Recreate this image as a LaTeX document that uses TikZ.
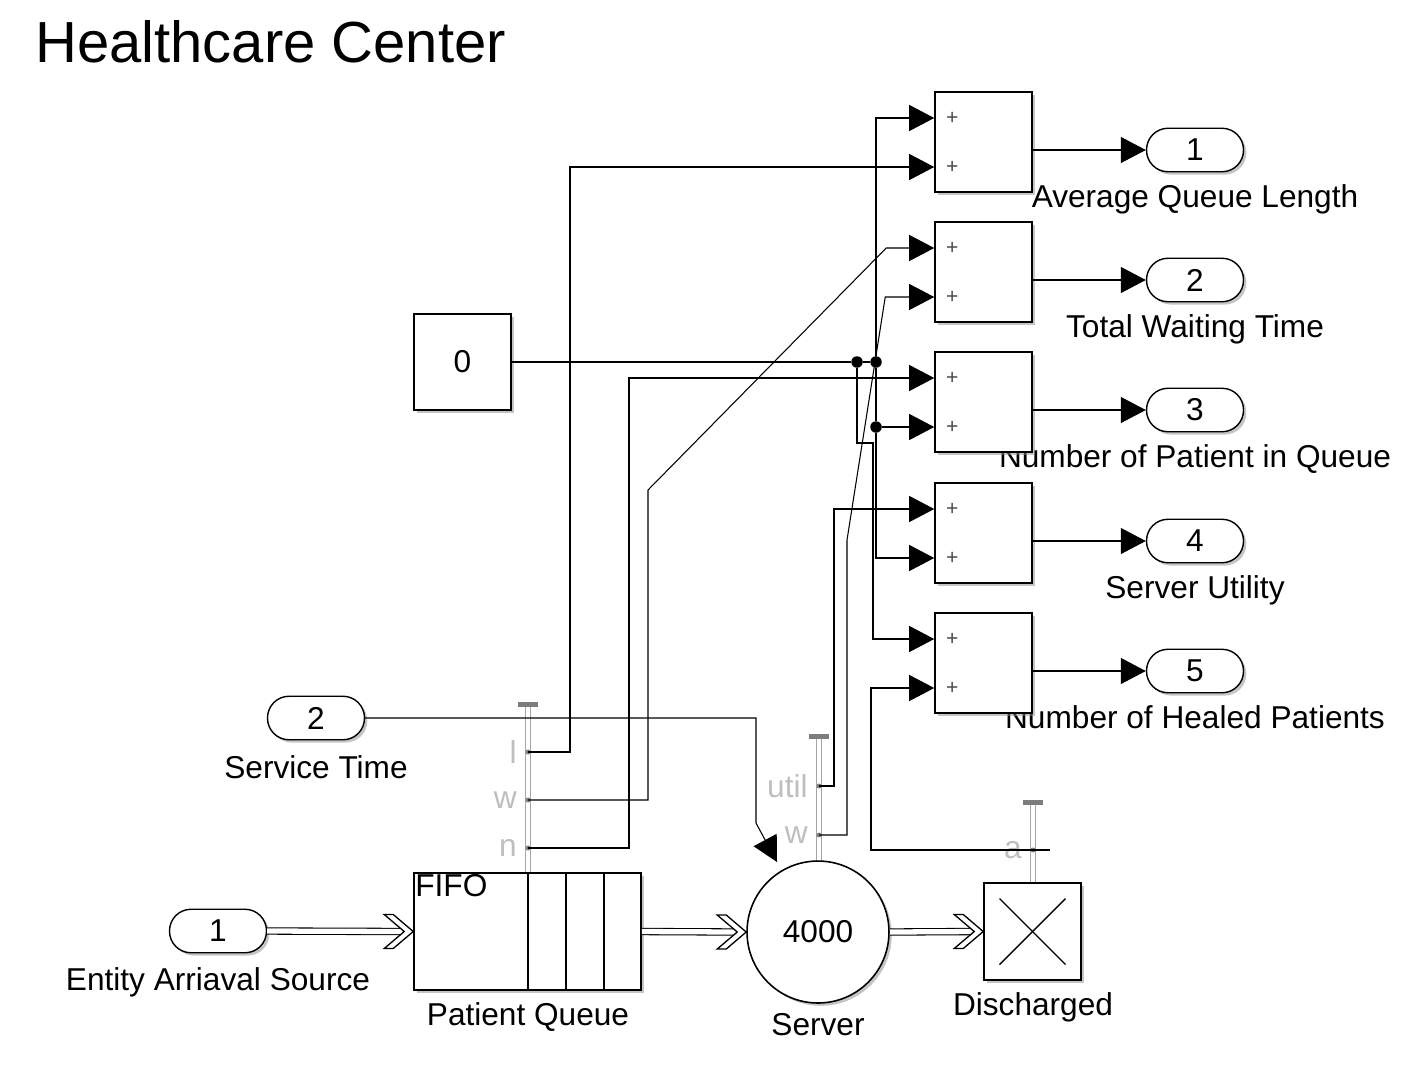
\documentclass[tikz,border=0pt]{standalone}
\usepackage{fontspec}
\setmainfont{Liberation Sans}
\usetikzlibrary{arrows.meta,positioning,calc,shadows}
\definecolor{clbl}{RGB}{190,190,190}
\definecolor{ccap}{RGB}{125,125,125}
\definecolor{cbar}{RGB}{165,165,165}

\begin{document}
\begin{tikzpicture}[x=0.02cm,y=-0.02cm,
  font=\fontsize{18}{22}\selectfont,>={Triangle[length=0.5cm,width=0.52cm]},
  blk/.style={draw,line width=0.9pt,fill=white,inner sep=0pt,
    drop shadow={shadow xshift=1.6pt,shadow yshift=-1.6pt,fill=black!45,opacity=0.5}},
  sumblk/.style={blk,minimum width=1.94cm,minimum height=2cm},
  portblk/.style={blk,line width=0.8pt,rounded corners=0.43cm,minimum width=1.94cm,minimum height=0.87cm},
  sgnlbl/.style={font=\fontsize{12}{14}\selectfont,text=black!70,inner sep=0pt},
  lbl/.style={anchor=base,inner sep=0pt},
  plbl/.style={text=clbl,anchor=east,inner sep=0pt},
  pdot/.style={circle,fill=black!50,inner sep=0pt,minimum size=0.1cm},
  dot/.style={circle,fill,inner sep=0pt,minimum size=0.23cm},
  portbar/.style={draw=cbar,double=white,double distance=2.6pt,line width=0.6pt},
  wire/.style={line width=0.6pt},
  sig/.style={->,line width=0.6pt},
  entity/.style={draw=black,double=white,double distance=3pt,line width=0.6pt},
  chev/.pic={\filldraw[fill=white,draw=black,line width=0.75pt]
    (-20,-17) -- (0,0) -- (-20,17) -- (-29,17) -- (-9,0) -- (-29,-17) -- cycle;}
]
\useasboundingbox (0,0) rectangle (1422,1066);

% ---- title ----
\node[anchor=base west,inner sep=0pt,font=\fontsize{33}{40}\selectfont] (title) at (35,62) {Healthcare Center};

% ---- sum blocks and outports ----
\foreach \i/\y/\lbl in {1/142/Average Queue Length,2/272/Total Waiting Time,
    3/402/Number of Patient in Queue,4/533/Server Utility,5/663/Number of Healed Patients} {
  \node[lbl] at (1195,\y+65) {\lbl};
  \node[sumblk] (sum\i) at (983.5,\y) {};
  \node[sgnlbl] at ($(sum\i.west)+(18,-24)$) {+};
  \node[sgnlbl] at ($(sum\i.west)+(18,25)$) {+};
  \coordinate (sum\i-a) at ($(sum\i.west)+(0,-24)$);
  \coordinate (sum\i-b) at ($(sum\i.west)+(0,25)$);
  \node[portblk] (out\i) at (1195,\y+8) {\i};
  \draw[sig] (sum\i.east |- out\i) -- (out\i.west);
}

% ---- sources ----
\node[blk,minimum width=1.94cm,minimum height=1.92cm] (zero) at (462.5,362) {0};
\node[portblk] (svc) at (316,718) {2};
\node[lbl] at (316,778) {Service Time};
\node[portblk] (ent) at (218,931) {1};
\node[lbl] at (218,990) {Entity Arriaval Source};

% ---- port bars ----
\draw[portbar] (528,705) -- (528,873);
\fill[ccap] (518,702) rectangle (538,707);
\draw[portbar] (819,738) -- (819,862);
\fill[ccap] (809,734) rectangle (829,739);
\draw[portbar] (1033,805) -- (1033,883);
\fill[ccap] (1023,800) rectangle (1043,805);

% ---- queue, server, sink ----
\node[blk,minimum width=4.54cm,minimum height=2.34cm] (queue) at (527.5,931.5) {};
\foreach \xd in {528,566,604} {\draw[line width=0.9pt] (\xd,873) -- (\xd,990);}
\node[anchor=north west,inner sep=1pt] (fifo) at (queue.north west) {FIFO};
\node[lbl] at (528,1025) {Patient Queue};
\node[blk,circle,minimum size=2.84cm] (server) at (818,932) {4000};
\node[lbl] at (818,1035) {Server};
\node[blk,minimum size=1.94cm] (disc) at (1032.5,931.5) {};
\draw[line width=0.8pt] ($(disc.center)+(-33,-33)$) -- ($(disc.center)+(33,33)$);
\draw[line width=0.8pt] ($(disc.center)+(33,-33)$) -- ($(disc.center)+(-33,33)$);
\node[lbl] at (1033,1015) {Discharged};

% ---- statistic ports ----
\foreach \p/\yy in {l/752,w/800,n/848} {
  \coordinate (q-\p) at (528,\yy);
  \node[pdot] at (q-\p) {};
  \node[plbl] at ($(q-\p)+(-11,0)$) {\p};
}
\foreach \p/\yy in {util/786,w/835} {
  \coordinate (s-\p) at (819,\yy);
  \node[pdot] at (s-\p) {};
  \node[plbl] at ($(s-\p)+(-11,0)$) {\p};
}
\coordinate (d-a) at (1033,850);
\node[pdot] at (d-a) {};
\node[plbl] at ($(d-a)+(-11,0)$) {a};
\coordinate (srv-t) at (777,862);

% ---- entity paths ----
\draw[entity] (ent.east) -- ($(queue.west)+(-9,0)$);
\draw[entity] (queue.east) -- ($(server.west)+(-9,0)$);
\draw[entity] (server.east) -- ($(disc.west)+(-9,0)$);
\path (queue.west) pic {chev};
\path (server.west) pic {chev};
\path (disc.west) pic {chev};

% ---- junctions ----
\node[dot] (j1) at (857,362) {};
\node[dot] (j2) at (876,362) {};
\node[dot] (j3) at (j2 |- sum3-b) {};

% ---- signal lines ----
\draw[wire] (zero.east) -- (j1) -- (j2);
\draw[sig] (j2) |- (sum1-a);
\draw[wire] (j2) -- (j3);
\draw[sig] (j3) -- (sum3-b);
\draw[sig] (j3) |- (sum4-b);
\draw[sig] (j1) -- (857,443) -- (873,443) |- (sum5-a);
\draw[sig] (q-l) -- ++(42,0) |- (sum1-b);
\draw[sig] (q-w) -| (648,490) -- ($(sum2-a)+(-48,0)$) -- (sum2-a);
\draw[sig] (q-n) -- ++(101,0) |- (sum3-a);
\draw[sig] (s-util) -- ++(15,0) |- (sum4-a);
\draw[sig] (s-w) -- ++(28,0) -- (847,540) -- ($(sum2-b)+(-49,0)$) -- (sum2-b);
\draw[wire] (d-a) -- ++(17,0);
\draw[sig] (d-a) -- ++(-162,0) |- (sum5-b);
\draw[sig] (svc.east) -| (756,823) -- (srv-t);
\end{tikzpicture}
\end{document}
